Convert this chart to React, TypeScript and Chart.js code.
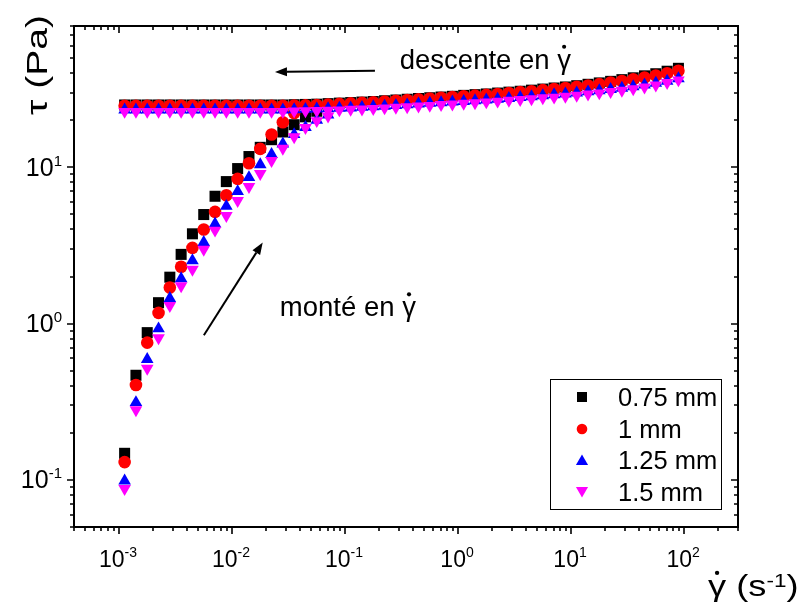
import React, { useEffect, useRef } from 'react';
import { Chart, registerables } from 'chart.js';

Chart.register(...registerables);

// ---------- data ----------
const seriesNames = ['0.75 mm', '1 mm', '1.25 mm', '1.5 mm'];
const seriesColors = ['#000000', '#ff0000', '#0000ff', '#ff00ff'];

// shear rates (s^-1), instrument sampling, 10 points per decade
const shearRate = [
  0.001122, 0.001413, 0.001778, 0.002239, 0.002818, 0.003548, 0.004467, 0.005623, 0.007079, 0.008913,
  0.01122, 0.01413, 0.01778, 0.02239, 0.02818, 0.03548, 0.04467, 0.05623, 0.07079, 0.08913,
  0.1122, 0.1413, 0.1778, 0.2239, 0.2818, 0.3548, 0.4467, 0.5623, 0.7079, 0.8913,
  1.122, 1.413, 1.778, 2.239, 2.818, 3.548, 4.467, 5.623, 7.079, 8.913,
  11.22, 14.13, 17.78, 22.39, 28.18, 35.48, 44.67, 56.23, 70.79, 89.13,
];

// ramp up (montée) — stress in Pa, first points of shearRate
const upBlack = [0.148, 0.467, 0.875, 1.36, 1.98, 2.77, 3.75, 4.98, 6.52, 8.09, 9.8, 11.7, 13.4, 15.0, 16.8, 18.7, 21.0, 22.8];
const upRed = [0.13, 0.405, 0.755, 1.17, 1.7, 2.31, 3.05, 4.0, 5.18, 6.62, 8.42, 10.6, 13.1, 16.2, 19.4, 22.2];
const upBlue = [0.0987, 0.313, 0.591, 0.927, 1.45, 1.94, 2.53, 3.31, 4.35, 5.63, 7.0, 8.6, 10.4, 12.1, 14.1, 16.2, 18.0, 20.0, 21.6];
const upMagenta = [0.088, 0.28, 0.517, 0.81, 1.3, 1.74, 2.22, 2.98, 3.95, 4.9, 6.1, 7.5, 9.1, 11.0, 13.2, 15.6, 17.9, 19.8, 21.2];

// ramp down (descente) — stress in Pa, over all of shearRate
const downBlack = [
  25.0, 25.0, 25.0, 25.0, 25.0, 25.0, 25.0, 25.0, 25.0, 25.0, 25.0, 25.0, 25.0, 25.0, 25.0,
  25.1, 25.2, 25.3, 25.5, 25.7, 25.9, 26.1, 26.3, 26.6, 26.9, 27.2, 27.5, 27.8, 28.1, 28.4,
  28.8, 29.1, 29.4, 29.8, 30.2, 30.6, 31.1, 31.6, 32.1, 32.6, 33.2, 33.9, 34.6, 35.4, 36.3,
  37.3, 38.4, 39.6, 41.1, 42.9,
];
const downRed = [
  24.7, 24.7, 24.7, 24.7, 24.7, 24.7, 24.7, 24.7, 24.7, 24.7, 24.7, 24.7, 24.7, 24.7, 24.7,
  24.8, 24.9, 25.0, 25.2, 25.4, 25.6, 25.8, 26.0, 26.3, 26.6, 26.9, 27.2, 27.5, 27.8, 28.1,
  28.4, 28.7, 29.0, 29.4, 29.8, 30.2, 30.6, 31.1, 31.6, 32.1, 32.7, 33.3, 34.0, 34.8, 35.6,
  36.5, 37.5, 38.6, 39.9, 41.4,
];
const downBlue = [
  23.3, 23.3, 23.3, 23.3, 23.3, 23.3, 23.3, 23.3, 23.3, 23.3, 23.3, 23.3, 23.3, 23.3, 23.3,
  23.4, 23.5, 23.6, 23.7, 23.9, 24.0, 24.2, 24.4, 24.6, 24.9, 25.1, 25.4, 25.7, 25.9, 26.2,
  26.4, 26.7, 27.0, 27.3, 27.6, 28.0, 28.3, 28.7, 29.1, 29.5, 29.9, 30.4, 30.9, 31.5, 32.1,
  32.8, 33.6, 34.5, 35.6, 36.9,
];
const downMagenta = [
  22.7, 22.7, 22.7, 22.7, 22.7, 22.7, 22.7, 22.7, 22.7, 22.7, 22.7, 22.7, 22.7, 22.7, 22.7,
  22.8, 22.9, 23.0, 23.1, 23.2, 23.4, 23.5, 23.7, 23.9, 24.1, 24.3, 24.6, 24.8, 25.1, 25.3,
  25.6, 25.8, 26.1, 26.4, 26.7, 27.0, 27.3, 27.7, 28.0, 28.4, 28.8, 29.3, 29.8, 30.4, 31.0,
  31.7, 32.5, 33.5, 34.7, 36.1,
];

const upSeries = [upBlack, upRed, upBlue, upMagenta];
const downSeries = [downBlack, downRed, downBlue, downMagenta];

// axis ranges
const xRange = [4e-4, 300];
const yRange = [0.05, 80];

// annotation anchors (data units)
const descenteLabel = { x: 0.305, y: 48.7 };
const descenteArrow = { from: { x: 0.184, y: 41.4 }, to: { x: 0.024, y: 40.7 } };
const monteLabel = { x: 0.0265, y: 1.27 };
const monteArrow = { from: { x: 0.00564, y: 0.841 }, to: { x: 0.0187, y: 3.3 } };

// ---------- styling ----------
const FONT = '"Liberation Sans", Arial, Helvetica, sans-serif';
const pointStyles = ['rect', 'circle', 'triangle', 'triangle'];
const pointRotations = [0, 0, 0, 180];
const pointRadii = [7.8, 6.3, 7.3, 7.3];
const drawOrder = [4, 3, 2, 1];

function buildDatasets() {
  const ds: any[] = [];
  for (let s = 0; s < 4; s++) {
    const common = {
      backgroundColor: seriesColors[s],
      borderColor: seriesColors[s],
      borderWidth: 0,
      pointStyle: pointStyles[s],
      rotation: pointRotations[s],
      pointRadius: pointRadii[s],
      pointHoverRadius: pointRadii[s],
      showLine: false,
      order: drawOrder[s],
    };
    ds.push({
      ...common,
      label: seriesNames[s],
      data: downSeries[s].map((y, i) => ({ x: shearRate[i], y })),
    });
    ds.push({
      ...common,
      label: seriesNames[s] + ' (montée)',
      data: upSeries[s].map((y, i) => ({ x: shearRate[i], y })),
    });
  }
  return ds;
}

function logTicks(min: number, max: number) {
  const out: { v: number; e: number; major: boolean }[] = [];
  for (let e = Math.floor(Math.log10(min)); e <= Math.ceil(Math.log10(max)); e++) {
    for (let m = 1; m <= 9; m++) {
      const v = m * Math.pow(10, e);
      if (v >= min * 0.9999 && v <= max * 1.0001) out.push({ v, e, major: m === 1 });
    }
  }
  return out;
}

// text drawn with a horizontal stretch (in its own direction); returns advance
function sText(ctx: CanvasRenderingContext2D, text: string, x: number, y: number, size: number, sx = 1) {
  ctx.font = `${size}px ${FONT}`;
  ctx.textAlign = 'left';
  ctx.textBaseline = 'alphabetic';
  ctx.save();
  ctx.translate(x, y);
  ctx.scale(sx, 1);
  ctx.fillText(text, 0, 0);
  ctx.restore();
  return ctx.measureText(text).width * sx;
}

function drawPow(ctx: CanvasRenderingContext2D, exp: string, x: number, y: number, align: 'center' | 'right', size: number, sup: number) {
  const raise = 10;
  ctx.font = `${size}px ${FONT}`;
  const w1 = ctx.measureText('10').width;
  ctx.font = `${sup}px ${FONT}`;
  const w2 = ctx.measureText(exp).width;
  const x0 = align === 'center' ? x - (w1 + w2) / 2 : x - (w1 + w2);
  sText(ctx, '10', x0, y, size);
  sText(ctx, exp, x0 + w1, y - raise, sup);
}

function drawMarker(ctx: CanvasRenderingContext2D, s: number, x: number, y: number) {
  ctx.fillStyle = seriesColors[s];
  ctx.beginPath();
  if (s === 0) {
    ctx.rect(x - 5, y - 5, 10, 10);
  } else if (s === 1) {
    ctx.arc(x, y, 5.3, 0, Math.PI * 2);
  } else {
    const dir = s === 2 ? -1 : 1;
    const r = 7;
    for (let k = 0; k < 3; k++) {
      const a = (k * 2 * Math.PI) / 3;
      const px = x + Math.sin(a) * r;
      const py = y + dir * Math.cos(a) * r + (dir < 0 ? 1.5 : -1.5);
      if (k === 0) ctx.moveTo(px, py);
      else ctx.lineTo(px, py);
    }
    ctx.closePath();
  }
  ctx.fill();
}

function arrow(ctx: CanvasRenderingContext2D, x1: number, y1: number, x2: number, y2: number) {
  const ang = Math.atan2(y2 - y1, x2 - x1);
  const hl = 12, hw = 4.5;
  const bx = x2 - Math.cos(ang) * hl, by = y2 - Math.sin(ang) * hl;
  ctx.lineWidth = 2;
  ctx.beginPath();
  ctx.moveTo(x1, y1);
  ctx.lineTo(bx, by);
  ctx.stroke();
  ctx.beginPath();
  ctx.moveTo(x2, y2);
  ctx.lineTo(bx + Math.sin(ang) * hw, by - Math.cos(ang) * hw);
  ctx.lineTo(bx - Math.sin(ang) * hw, by + Math.cos(ang) * hw);
  ctx.closePath();
  ctx.fill();
}

// text followed by a dotted gamma (γ with overdot); returns end x
function gammaDot(ctx: CanvasRenderingContext2D, text: string, x: number, y: number, size: number, sx = 1) {
  const w = text ? sText(ctx, text, x, y, size, sx) : 0;
  const gw = sText(ctx, 'γ', x + w, y, size, sx);
  ctx.beginPath();
  ctx.arc(x + w + gw / 2, y - size * 0.8, size * 0.075, 0, Math.PI * 2);
  ctx.fill();
  return x + w + gw;
}

const originPlugin = {
  id: 'originAxes',
  afterDatasetsDraw(chart: any) {
    const { ctx, chartArea: a, scales } = chart;
    const xs = scales.x, ys = scales.y;
    ctx.save();
    ctx.strokeStyle = '#000';
    ctx.fillStyle = '#000';

    // frame
    ctx.lineWidth = 2;
    ctx.strokeRect(a.left, a.top, a.right - a.left, a.bottom - a.top);

    // ticks
    const majorLen = 7, minorLen = 4;
    ctx.lineWidth = 1.6;
    ctx.beginPath();
    for (const t of logTicks(xs.min, xs.max)) {
      const px = Math.round(xs.getPixelForValue(t.v));
      const L = t.major ? majorLen : minorLen;
      ctx.moveTo(px, a.bottom);
      ctx.lineTo(px, a.bottom + L);
      ctx.moveTo(px, a.top);
      ctx.lineTo(px, a.top + L);
    }
    for (const t of logTicks(ys.min, ys.max)) {
      const py = Math.round(ys.getPixelForValue(t.v));
      const L = t.major ? majorLen : minorLen;
      ctx.moveTo(a.left, py);
      ctx.lineTo(a.left - L, py);
      ctx.moveTo(a.right, py);
      ctx.lineTo(a.right - L, py);
    }
    ctx.stroke();

    // tick labels
    for (const t of logTicks(xs.min, xs.max)) {
      if (!t.major) continue;
      const px = xs.getPixelForValue(t.v);
      drawPow(ctx, t.e < 0 ? '-' + -t.e : String(t.e), px - 1, a.bottom + 40, 'center', 23, 14);
    }
    for (const t of logTicks(ys.min, ys.max)) {
      if (!t.major) continue;
      const py = ys.getPixelForValue(t.v);
      drawPow(ctx, t.e < 0 ? '-' + -t.e : String(t.e), a.left - 12, py + 8.5, 'right', 25, 15);
    }

    // y axis title (rotated)
    ctx.save();
    ctx.translate(47, 115);
    ctx.rotate(-Math.PI / 2);
    sText(ctx, 'τ (Pa)', 0, 0, 30, 1.3);
    ctx.restore();

    // x axis title
    {
      const size = 29, sx = 1.25, base = 596;
      let x = gammaDot(ctx, '', 708, base, size, sx);
      x += sText(ctx, ' (s', x, base, size, sx);
      x += sText(ctx, '-1', x, base - 9, 18, sx);
      sText(ctx, ')', x, base, size, sx);
    }

    // annotations
    {
      const lx = xs.getPixelForValue(descenteLabel.x), ly = ys.getPixelForValue(descenteLabel.y);
      gammaDot(ctx, 'descente en ', lx, ly + 9, 27.5);
      arrow(ctx,
        xs.getPixelForValue(descenteArrow.from.x), ys.getPixelForValue(descenteArrow.from.y),
        xs.getPixelForValue(descenteArrow.to.x), ys.getPixelForValue(descenteArrow.to.y));
      const mx = xs.getPixelForValue(monteLabel.x), my = ys.getPixelForValue(monteLabel.y);
      gammaDot(ctx, 'monté en ', mx, my + 9, 27.5);
      arrow(ctx,
        xs.getPixelForValue(monteArrow.from.x), ys.getPixelForValue(monteArrow.from.y),
        xs.getPixelForValue(monteArrow.to.x), ys.getPixelForValue(monteArrow.to.y));
    }

    // legend
    {
      const bx = 550, by = 379, bw = 171, bh = 130;
      ctx.fillStyle = '#fff';
      ctx.fillRect(bx, by, bw, bh);
      ctx.lineWidth = 1;
      ctx.strokeStyle = '#000';
      ctx.strokeRect(bx + 0.5, by + 0.5, bw, bh);
      const rows = [397, 429, 460, 492];
      for (let s = 0; s < 4; s++) {
        drawMarker(ctx, s, 582, rows[s]);
        ctx.fillStyle = '#000';
        sText(ctx, seriesNames[s], 618, rows[s] + 9, 25.5);
      }
    }
    ctx.restore();
  },
};

export default function App() {
  const ref = useRef<HTMLCanvasElement>(null);
  useEffect(() => {
    const canvas = ref.current;
    if (!canvas) return;
    const chart = new Chart(canvas, {
      type: 'scatter',
      data: { datasets: buildDatasets() },
      options: {
        responsive: false,
        animation: false,
        devicePixelRatio: 1,
        layout: { padding: { left: 74, top: 26, right: 69, bottom: 77 } },
        scales: {
          x: { type: 'logarithmic', min: xRange[0], max: xRange[1], display: false },
          y: { type: 'logarithmic', min: yRange[0], max: yRange[1], display: false },
        },
        plugins: { legend: { display: false }, tooltip: { enabled: false } },
      },
      plugins: [originPlugin],
    } as any);
    return () => chart.destroy();
  }, []);
  return (
    <div style={{ position: 'absolute', left: 0, top: 0, width: 807, height: 604, background: '#fff' }}>
      <canvas ref={ref} width={807} height={604} style={{ display: 'block' }} />
    </div>
  );
}
